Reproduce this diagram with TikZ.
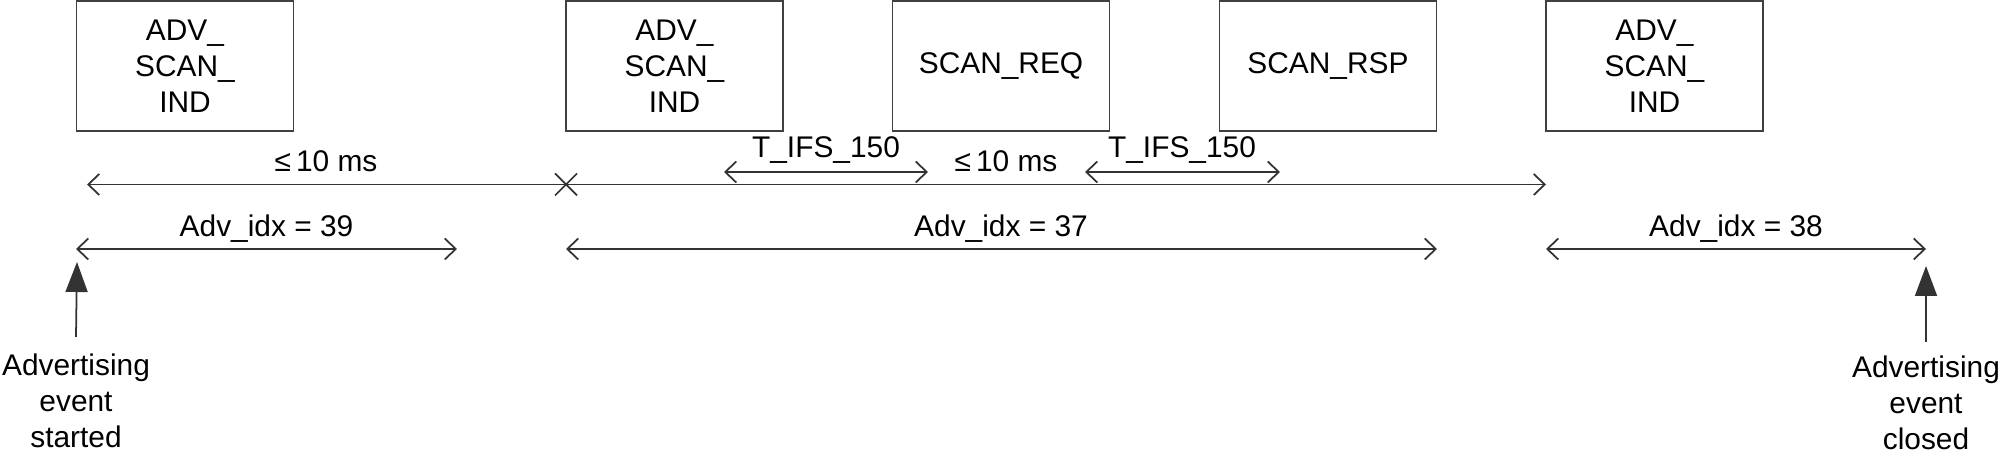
\documentclass[tikz,border=0pt]{standalone}
\usepackage{fontspec}
\setmainfont{Liberation Sans}
\usetikzlibrary{arrows.meta}
\tikzstyle{frame}=[draw=black!75,line width=0.5pt,minimum width=2.17cm,minimum height=1.3cm,align=center,inner sep=0pt]
\tikzstyle{span}=[black!80,line width=0.5pt,{Straight Barb[length=1.1mm,width=2.1mm]}-{Straight Barb[length=1.1mm,width=2.1mm]}]
\tikzstyle{event arrow}=[black!80,line width=0.5pt,-{Triangle[length=3mm,width=2.2mm]}]
\tikzstyle{event text}=[align=center,inner sep=0pt,anchor=north]
\tikzstyle{label}=[inner sep=0pt,anchor=base]

\begin{document}
\begin{tikzpicture}[font=\fontsize{8.5}{10.2}\selectfont]
	\useasboundingbox (0,0) rectangle (20,-4.54);

	% packets on air
	\node[frame] (ind1) at (1.85,-0.66) {ADV\_\\SCAN\_\\IND};
	\node[frame] (ind2) at (6.745,-0.66) {ADV\_\\SCAN\_\\IND};
	\node[frame] (req) at (10.01,-0.66) {SCAN\_REQ};
	\node[frame] (rsp) at (13.28,-0.66) {SCAN\_RSP};
	\node[frame] (ind3) at (16.545,-0.66) {ADV\_\\SCAN\_\\IND};

	% timing line
	\coordinate (t0) at (0.87,-1.845);
	\coordinate (tx) at (5.66,-1.845);
	\coordinate (t1) at (15.46,-1.845);
	\draw[black!80,line width=0.5pt,{Straight Barb[length=1.1mm,width=2.1mm]}-] (t0) -- (tx);
	\draw[black!80,line width=0.5pt,-{Straight Barb[length=1.1mm,width=2.1mm]}] (tx) -- (t1);
	\draw[black!80,line width=0.5pt]
		([shift={(-0.11,0.11)}]tx) -- ([shift={(0.11,-0.11)}]tx)
		([shift={(-0.11,-0.11)}]tx) -- ([shift={(0.11,0.11)}]tx);
	\node[label] (lim1) at (3.26,-1.72) {≤\,10 ms};
	\node[label] (lim2) at (10.06,-1.72) {≤\,10 ms};

	% inter frame spaces
	\coordinate (ifs1a) at (7.24,-1.72);
	\coordinate (ifs1b) at (9.28,-1.72);
	\coordinate (ifs2a) at (10.85,-1.72);
	\coordinate (ifs2b) at (12.80,-1.72);
	\draw[span] (ifs1a) -- (ifs1b);
	\draw[span] (ifs2a) -- (ifs2b);
	\node[label] (ifs1) at (8.26,-1.58) {T\_IFS\_150};
	\node[label] (ifs2) at (11.82,-1.58) {T\_IFS\_150};

	% channel index
	\coordinate (c39a) at (0.76,-2.49);
	\coordinate (c39b) at (4.57,-2.49);
	\coordinate (c37a) at (5.66,-2.49);
	\coordinate (c37b) at (14.37,-2.49);
	\coordinate (c38a) at (15.46,-2.49);
	\coordinate (c38b) at (19.26,-2.49);
	\draw[span] (c39a) -- (c39b);
	\draw[span] (c37a) -- (c37b);
	\draw[span] (c38a) -- (c38b);
	\node[label] (idx39) at (2.665,-2.37) {Adv\_idx = 39};
	\node[label] (idx37) at (10.01,-2.37) {Adv\_idx = 37};
	\node[label] (idx38) at (17.36,-2.37) {Adv\_idx = 38};

	% start and end of the event
	\node[event text] (start) at (0.76,-3.53) {Advertising\\event\\started};
	\node[event text] (close) at (19.26,-3.55) {Advertising\\event\\closed};
	\coordinate (tipL) at (0.77,-2.62);
	\coordinate (tipR) at (19.26,-2.66);
	\draw[event arrow] ([yshift=1.6mm]start.north) -- (tipL);
	\draw[event arrow] ([yshift=1.3mm]close.north) -- (tipR);
\end{tikzpicture}
\end{document}
